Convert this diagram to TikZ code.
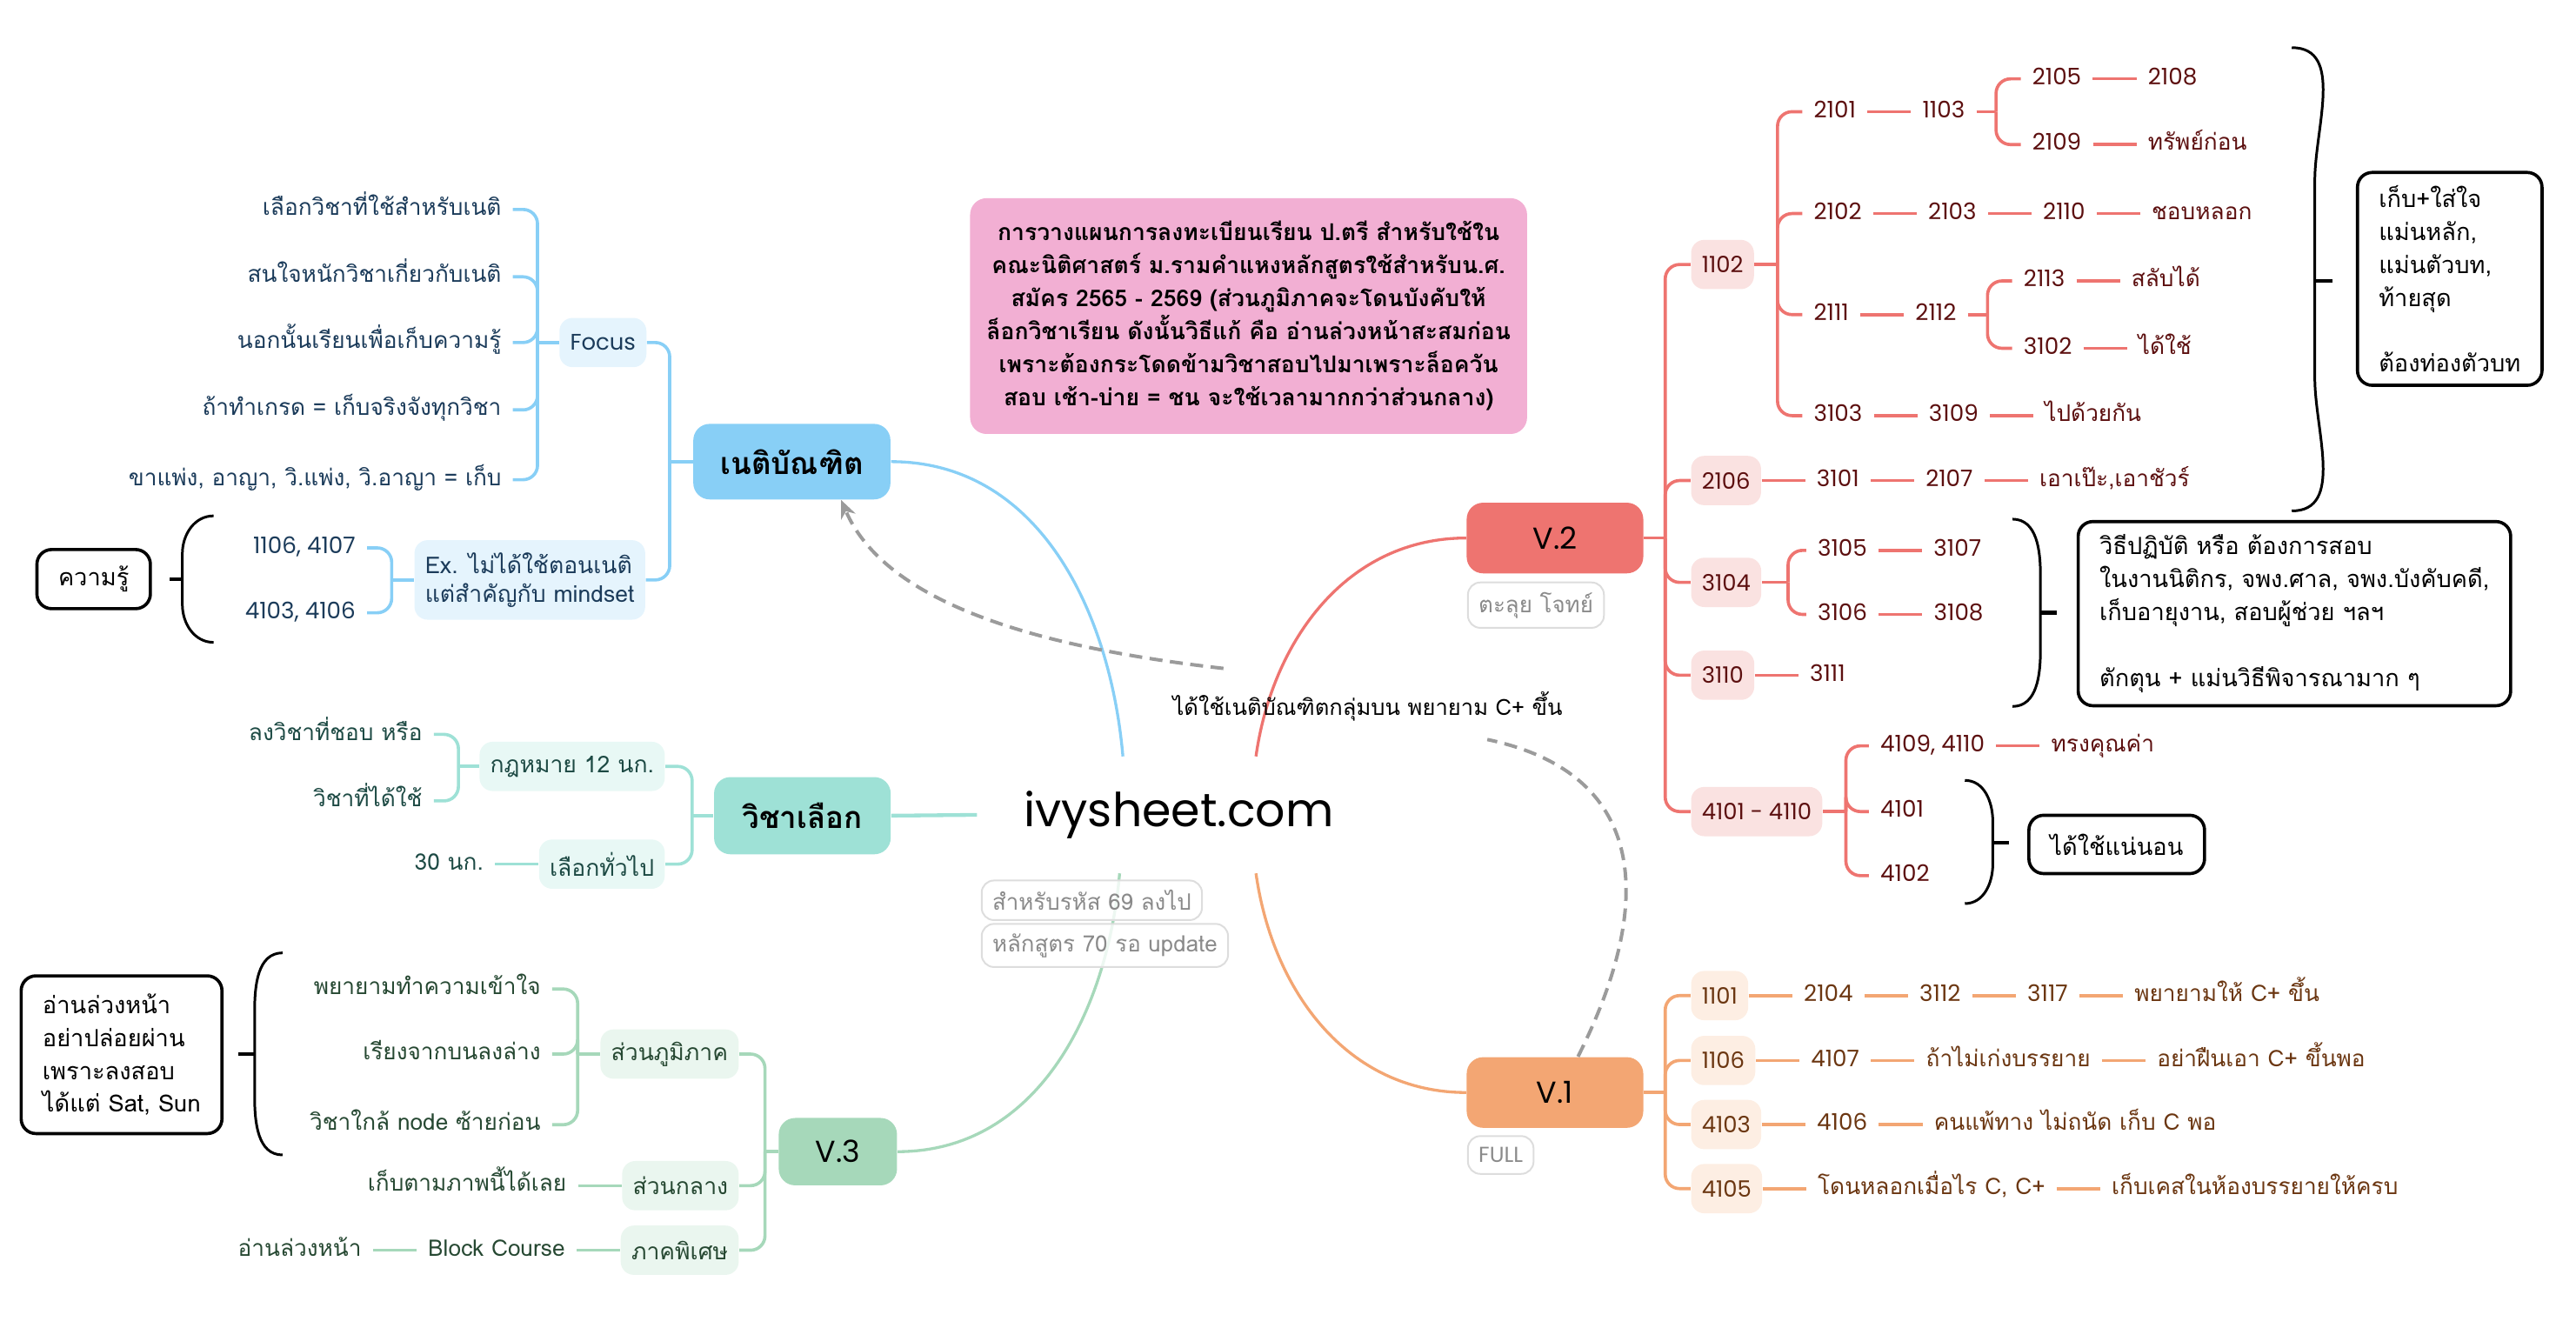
\documentclass[tikz,border=0pt]{standalone}
\usepackage{fontspec}
\setmainfont{Loma}[Script=Thai]
\newfontfamily\pop{Poppins}
\usepackage{tikz}
\usetikzlibrary{positioning,calc,arrows.meta}
\definecolor{netiC}{HTML}{88CFF6}
\definecolor{netiS}{HTML}{E5F4FD}
\definecolor{netiT}{HTML}{1B3B5A}
\definecolor{elecC}{HTML}{9EE1D6}
\definecolor{elecS}{HTML}{E8F8F5}
\definecolor{elecT}{HTML}{1D4A44}
\definecolor{vthC}{HTML}{A6D8BA}
\definecolor{vthS}{HTML}{EAF6EF}
\definecolor{vthT}{HTML}{264832}
\definecolor{vtwC}{HTML}{EE7470}
\definecolor{vtwS}{HTML}{FAE2E1}
\definecolor{vtwT}{HTML}{5C0F0F}
\definecolor{voC}{HTML}{F3A673}
\definecolor{voS}{HTML}{FDEEE3}
\definecolor{voT}{HTML}{6B3611}
\definecolor{pinkC}{HTML}{F2AFD3}
\definecolor{tagline}{HTML}{DDDDDD}
\definecolor{tagtext}{HTML}{8A8A8A}
\definecolor{relgrey}{HTML}{9B9B9B}

\begin{document}
\begin{tikzpicture}[
  x=0.2mm, y=-0.2mm,
  main/.style={rounded corners=2mm, minimum height=9.2mm, minimum width=21.5mm, inner sep=2pt},
  thbig/.style={font=\bfseries\fontsize{10.5}{12}\selectfont},
  vbig/.style={font=\pop\fontsize{10.5}{12}\selectfont},
  sub/.style={rounded corners=1.6mm, minimum height=6mm, inner xsep=1.3mm, font=\fontsize{8}{10}\selectfont},
  subn/.style={sub, font=\pop\fontsize{7.8}{10}\selectfont},
  leaf/.style={inner sep=1pt, outer sep=3pt, text height=6pt, text depth=2pt, font=\fontsize{7.9}{10}\selectfont},
  num/.style={leaf, font=\pop\fontsize{7.9}{10}\selectfont},
  link/.style={line width=1.1pt},
  trunk/.style={link, rounded corners=5pt},
  stem/.style={line width=1pt},
  note/.style={draw, line width=1.1pt, rounded corners=1.8mm, align=left, inner xsep=2.6mm, inner ysep=1.6mm, font=\fontsize{8.2}{11.4}\selectfont},
  brk/.style={line width=0.9pt},
  tick/.style={line width=1.4pt},
  tag/.style={draw=tagline, line width=0.6pt, fill=white, fill opacity=0.8, text opacity=1, text=tagtext,
              rounded corners=1.5mm, inner xsep=1.3mm, minimum height=4.6mm, font=\fontsize{7.8}{10}\selectfont},
  rel/.style={draw=relgrey, line width=1.2pt, dash pattern=on 4.5pt off 2.6pt}]
  \def\hgap{5.3mm}
  \useasboundingbox (0,0) rectangle (1568,808);
  %  -- - hub and title  -- -
  \node[minimum width=49mm, minimum height=14.1mm, font=\pop\fontsize{16.2}{20}\selectfont] (hub) at (717.5,496) {ivysheet.com};
  \node[fill=pinkC, rounded corners=2mm, minimum width=67.8mm, minimum height=28.7mm, align=center,
        font=\bfseries\fontsize{8}{11.45}\selectfont] (plan) at (760,192.4)
    {การวางแผนการลงทะเบียนเรียน ป.ตรี สำหรับใช้ใน\\
     คณะนิติศาสตร์ ม.รามคำแหงหลักสูตรใช้สำหรับน.ศ.\\
     สมัคร 2565 - 2569 (ส่วนภูมิภาคจะโดนบังคับให้\\
     ล็อกวิชาเรียน ดังนั้นวิธีแก้ คือ อ่านล่วงหน้าสะสมก่อน\\
     เพราะต้องกระโดดข้ามวิชาสอบไปมาเพราะล็อควัน\\
     สอบ เช้า-บ่าย = ชน จะใช้เวลามากกว่าส่วนกลาง)};
  %  -- - main topics  -- -
  \node[main, thbig, fill=netiC, minimum width=24mm] (neti) at (482,281) {เนติบัณฑิต};
  \node[main, thbig, fill=elecC, minimum height=9.4mm] (elec) at (488.4,496.5) {วิชาเลือก};
  \node[main, vbig, fill=vthC, minimum width=14.4mm, minimum height=8.2mm] (v3) at (510,701) {V.3};
  \node[main, vbig, fill=vtwC, minimum height=8.6mm] (v2) at (946.5,327.5) {V.2};
  \node[main, vbig, fill=voC, minimum height=8.6mm] (v1) at (946.5,665) {V.1};
  \draw[stem, netiC] ($(hub.north)+(-34,0)$) to[out=95,in=0] (neti.east);
  \draw[stem, vtwC] ($(hub.north)+(47,0)$) to[out=82,in=180] (v2.west);
  \draw[stem, vthC] ($(hub.south)+(-36,0)$) to[out=-95,in=0] (v3.east);
  \draw[stem, voC] ($(hub.south)+(47,0)$) to[out=-82,in=180] (v1.west);
  \draw[stem, elecC, line width=1.3pt] (hub.west) -- (elec.east);
  \node[tag, anchor=west] (t69) at (597,548) {สำหรับรหัส 69 ลงไป};
  \node[tag, anchor=west] (t70) at (597,575.5) {หลักสูตร 70 รอ update};
  \node[tag, anchor=north west] (tv2) at (893,354) {ตะลุย โจทย์};
  \node[tag, anchor=north west, font=\pop\fontsize{7.5}{10}\selectfont] (tv1) at (893,691) {FULL};
  %  -- - relation  -- -
  \node[font=\fontsize{7.7}{10}\selectfont] (lbl) at (832.5,430) {ได้ใช้เนติบัณฑิตกลุ่มบน พยายาม C+ ขึ้น};
  \draw[rel] ($(v1.north)+(14,0)$) .. controls (1010,545) and (1000,470) .. ($(lbl.south east)+(-52,5)$);
  \draw[rel, -{Stealth[length=2.2mm, width=1.9mm]}] ($(lbl.north west)+(37,-8)$) .. controls (640,395) and (540,370) .. ($(neti.south)+(30,0)$);

  %  -- - เนติบัณฑิต  -- -
  \coordinate (kneti) at ($(neti.west)+(-14,0)$);
  \node[subn, fill=netiS, text=netiT] (focus) at (367,208.5) {Focus};
  \node[sub, fill=netiS, text=netiT, align=left, inner ysep=1.5mm] (ex) at (322.5,353) {Ex. ไม่ได้ใช้ตอนเนติ\\แต่สำคัญกับ mindset};
  \coordinate (kfocus) at ($(focus.west)+(-13,0)$);
  \node[leaf, text=netiT, anchor=east] (f1) at ($(kfocus)+(-15,-81)$) {เลือกวิชาที่ใช้สำหรับเนติ};
  \node[leaf, text=netiT, anchor=east] (f2) at ($(kfocus)+(-15,-40)$) {สนใจหนักวิชาเกี่ยวกับเนติ};
  \node[leaf, text=netiT, anchor=east] (f3) at ($(kfocus)+(-15,0)$) {นอกนั้นเรียนเพื่อเก็บความรู้};
  \node[leaf, text=netiT, anchor=east] (f4) at ($(kfocus)+(-15,41)$) {ถ้าทำเกรด = เก็บจริงจังทุกวิชา};
  \node[leaf, text=netiT, anchor=east] (f5) at ($(kfocus)+(-15,83.5)$) {ขาแพ่ง, อาญา, วิ.แพ่ง, วิ.อาญา = เก็บ};
  \coordinate (kex) at ($(ex.west)+(-13.5,0)$);
  \node[num, text=netiT, anchor=east] (e1) at ($(kex)+(-15,-19.5)$) {1106, 4107};
  \node[num, text=netiT, anchor=east] (e2) at ($(kex)+(-15,20)$) {4103, 4106};
  \node[note, minimum width=13.6mm, minimum height=7.2mm, align=center] (know) at (57,352.5) {ความรู้};
  \draw[link, netiC] (neti.west) -- (kneti);
  \foreach \c in {focus,ex} \draw[trunk, netiC] (kneti) |- (\c.east);
  \draw[link, netiC] (focus.west) -- (kfocus);
  \foreach \c in {f1,f2,f3,f4,f5} \draw[trunk, netiC] (kfocus) |- (\c.east);
  \draw[link, netiC] (ex.west) -- (kex);
  \foreach \c in {e1,e2} \draw[trunk, netiC] (kex) |- (\c.east);
  \draw[brk] (130,314) to[out=180,in=90] (111,337) -- (111,368) to[out=-90,in=180] (130,391);
  \draw[tick] (111,352.5) -- (103,352.5);

  %  -- - วิชาเลือก  -- -
  \coordinate (kelec) at ($(elec.west)+(-13,0)$);
  \node[sub, fill=elecS, text=elecT, anchor=east] (law) at (405,466.5) {กฎหมาย 12 นก.};
  \node[sub, fill=elecS, text=elecT, anchor=east] (gen) at (405,526) {เลือกทั่วไป};
  \coordinate (klaw) at ($(law.west)+(-12.5,0)$);
  \node[leaf, text=elecT, anchor=east] (w1) at ($(klaw)+(-15,-19.5)$) {ลงวิชาที่ชอบ หรือ};
  \node[leaf, text=elecT, anchor=east] (w2) at ($(klaw)+(-15,21)$) {วิชาที่ได้ใช้};
  \node[leaf, text=elecT, left=\hgap of gen] (g1) {30 นก.};
  \draw[link, elecC] (elec.west) -- (kelec);
  \foreach \c in {law,gen} \draw[trunk, elecC] (kelec) |- (\c.east);
  \draw[link, elecC] (law.west) -- (klaw);
  \foreach \c in {w1,w2} \draw[trunk, elecC] (klaw) |- (\c.east);
  \draw[link, elecC] (gen) -- (g1);

  %  -- - V.3  -- -
  \coordinate (kv3) at ($(v3.west)+(-8,0)$);
  \node[sub, fill=vthS, text=vthT, anchor=east] (reg) at (450,641.6) {ส่วนภูมิภาค};
  \node[sub, fill=vthS, text=vthT, anchor=east] (cen) at (450,721.7) {ส่วนกลาง};
  \node[sub, fill=vthS, text=vthT, anchor=east] (spe) at (450,761) {ภาคพิเศษ};
  \coordinate (kreg) at ($(reg.west)+(-13.5,0)$);
  \node[leaf, text=vthT, anchor=east] (r1) at ($(kreg)+(-15.5,-39.6)$) {พยายามทำความเข้าใจ};
  \node[leaf, text=vthT, anchor=east] (r2) at ($(kreg)+(-15.5,0)$) {เรียงจากบนลงล่าง};
  \node[leaf, text=vthT, anchor=east] (r3) at ($(kreg)+(-15.5,43)$) {วิชาใกล้ node ซ้ายก่อน};
  \node[leaf, text=vthT, left=\hgap of cen] (c1) {เก็บตามภาพนี้ได้เลย};
  \node[leaf, text=vthT, left=\hgap of spe] (p1) {Block Course};
  \node[leaf, text=vthT, left=\hgap of p1] (p2) {อ่านล่วงหน้า};
  \node[note, minimum width=23.8mm, minimum height=19.2mm] (ahead) at (74,642)
    {อ่านล่วงหน้า\\อย่าปล่อยผ่าน\\เพราะลงสอบ\\ได้แต่ Sat, Sun};
  \draw[link, vthC] (v3.west) -- (kv3);
  \foreach \c in {reg,cen,spe} \draw[trunk, vthC] (kv3) |- (\c.east);
  \draw[link, vthC] (reg.west) -- (kreg);
  \foreach \c in {r1,r2,r3} \draw[trunk, vthC] (kreg) |- (\c.east);
  \draw[link, vthC] (cen) -- (c1); \draw[link, vthC] (spe) -- (p1); \draw[link, vthC] (p1) -- (p2);
  \draw[brk] (172,580) to[out=180,in=90] (155,615) -- (155,668) to[out=-90,in=180] (172,703);
  \draw[tick] (155,641.5) -- (145,641.5);

  %  -- - V.2  -- -
  \coordinate (kv2) at ($(v2.east)+(13,0)$);
  \node[subn, fill=vtwS, text=vtwT, anchor=west] (s1102) at (1029,161) {1102};
  \node[subn, fill=vtwS, text=vtwT, anchor=west] (s2106) at (1029,292.5) {2106};
  \node[subn, fill=vtwS, text=vtwT, anchor=west] (s3104) at (1029,354.5) {3104};
  \node[subn, fill=vtwS, text=vtwT, anchor=west] (s3110) at (1029,411) {3110};
  \node[subn, fill=vtwS, text=vtwT, anchor=west] (s4101) at (1029,494) {4101 - 4110};
  \draw[link, vtwC] (v2.east) -- (kv2);
  \foreach \s in {s1102,s2106,s3104,s3110,s4101} \draw[trunk, vtwC] (kv2) |- (\s.west);
  % 1102
  \coordinate (k1102) at ($(s1102.east)+(14,0)$);
  \node[num, text=vtwT, anchor=west] (n2101) at (1097,68) {2101};
  \node[num, text=vtwT, right=\hgap of n2101] (n1103) {1103};
  \coordinate (k1103) at ($(n1103.east)+(12,0)$);
  \node[num, text=vtwT, anchor=west] (n2105) at ($(k1103)+(15,-20)$) {2105};
  \node[num, text=vtwT, right=\hgap of n2105] (n2108) {2108};
  \node[num, text=vtwT, anchor=west] (n2109) at ($(k1103)+(15,20)$) {2109};
  \node[leaf, text=vtwT, right=\hgap of n2109] (q1) {ทรัพย์ก่อน};
  \node[num, text=vtwT, anchor=west] (n2102) at (1097,130) {2102};
  \node[num, text=vtwT, right=\hgap of n2102] (n2103) {2103};
  \node[num, text=vtwT, right=\hgap of n2103] (n2110) {2110};
  \node[leaf, text=vtwT, right=\hgap of n2110] (q2) {ชอบหลอก};
  \node[num, text=vtwT, anchor=west] (n2111) at (1097,191.5) {2111};
  \node[num, text=vtwT, right=\hgap of n2111] (n2112) {2112};
  \coordinate (k2112) at ($(n2112.east)+(12,0)$);
  \node[num, text=vtwT, anchor=west] (n2113) at ($(k2112)+(15,-20.5)$) {2113};
  \node[leaf, text=vtwT, right=\hgap of n2113] (q3) {สลับได้};
  \node[num, text=vtwT, anchor=west] (n3102) at ($(k2112)+(15,20.5)$) {3102};
  \node[leaf, text=vtwT, right=\hgap of n3102] (q4) {ได้ใช้};
  \node[num, text=vtwT, anchor=west] (n3103) at (1097,253) {3103};
  \node[num, text=vtwT, right=\hgap of n3103] (n3109) {3109};
  \node[leaf, text=vtwT, right=\hgap of n3109] (q5) {ไปด้วยกัน};
  \draw[link, vtwC] (s1102.east) -- (k1102);
  \foreach \c in {n2101,n2102,n2111,n3103} \draw[trunk, vtwC] (k1102) |- (\c.west);
  \draw[link, vtwC] (n2101) -- (n1103); \draw[link, vtwC] (n1103.east) -- (k1103);
  \foreach \c in {n2105,n2109} \draw[trunk, vtwC] (k1103) |- (\c.west);
  \draw[link, vtwC] (n2105) -- (n2108); \draw[link, vtwC] (n2109) -- (q1);
  \draw[link, vtwC] (n2102) -- (n2103); \draw[link, vtwC] (n2103) -- (n2110); \draw[link, vtwC] (n2110) -- (q2);
  \draw[link, vtwC] (n2111) -- (n2112); \draw[link, vtwC] (n2112.east) -- (k2112);
  \foreach \c in {n2113,n3102} \draw[trunk, vtwC] (k2112) |- (\c.west);
  \draw[link, vtwC] (n2113) -- (q3); \draw[link, vtwC] (n3102) -- (q4);
  \draw[link, vtwC] (n3103) -- (n3109); \draw[link, vtwC] (n3109) -- (q5);
  % 2106, 3104, 3110
  \node[num, text=vtwT, right=\hgap of s2106] (n3101) {3101};
  \node[num, text=vtwT, right=\hgap of n3101] (n2107) {2107};
  \node[leaf, text=vtwT, right=\hgap of n2107] (q6) {เอาเป๊ะ,เอาชัวร์};
  \draw[link, vtwC] (s2106) -- (n3101); \draw[link, vtwC] (n3101) -- (n2107); \draw[link, vtwC] (n2107) -- (q6);
  \coordinate (k3104) at ($(s3104.east)+(16,0)$);
  \node[num, text=vtwT, anchor=west] (n3105) at ($(k3104)+(11,-19.5)$) {3105};
  \node[num, text=vtwT, right=\hgap of n3105] (n3107) {3107};
  \node[num, text=vtwT, anchor=west] (n3106) at ($(k3104)+(11,19.5)$) {3106};
  \node[num, text=vtwT, right=\hgap of n3106] (n3108) {3108};
  \draw[link, vtwC] (s3104.east) -- (k3104);
  \foreach \c in {n3105,n3106} \draw[trunk, vtwC] (k3104) |- (\c.west);
  \draw[link, vtwC] (n3105) -- (n3107); \draw[link, vtwC] (n3106) -- (n3108);
  \node[num, text=vtwT, right=\hgap of s3110] (n3111) {3111};
  \draw[link, vtwC] (s3110) -- (n3111);
  % 4101 - 4110
  \coordinate (k4101) at ($(s4101.east)+(14,0)$);
  \node[num, text=vtwT, anchor=west] (n4109) at ($(k4101)+(14,-40)$) {4109, 4110};
  \node[leaf, text=vtwT, right=\hgap of n4109] (q7) {ทรงคุณค่า};
  \node[num, text=vtwT, anchor=west] (n4101) at ($(k4101)+(14,0)$) {4101};
  \node[num, text=vtwT, anchor=west] (n4102) at ($(k4101)+(14,39)$) {4102};
  \draw[link, vtwC] (s4101.east) -- (k4101);
  \foreach \c in {n4109,n4101,n4102} \draw[trunk, vtwC] (k4101) |- (\c.west);
  \draw[link, vtwC] (n4109) -- (q7);
  % notes on the right
  \node[note, anchor=north west] (keep) at (1434,104)
    {เก็บ+ใส่ใจ\\แม่นหลัก,\\แม่นตัวบท,\\ท้ายสุด\\[11.4pt]ต้องท่องตัวบท};
  \node[note, anchor=north west] (prac) at (1264,316.5)
    {วิธีปฏิบัติ หรือ ต้องการสอบ\\ในงานนิติกร, จพง.ศาล, จพง.บังคับคดี,\\เก็บอายุงาน, สอบผู้ช่วย ฯลฯ\\[11.4pt]ตักตุน + แม่นวิธีพิจารณามาก ๆ};
  \node[note, anchor=west, minimum height=7.1mm] (sure) at (1234,514) {ได้ใช้แน่นอน};
  \draw[brk] (1395,29) to[out=0,in=90] (1409,110) -- (1409,230) to[out=-90,in=0] (1395,311);
  \draw[tick] (1409,171) -- (1420,171);
  \draw[brk] (1225,316) to[out=0,in=90] (1242,350) -- (1242,396) to[out=-90,in=0] (1225,430);
  \draw[tick] (1242,373) -- (1252,373);
  \draw[brk] (1196,475) to[out=0,in=90] (1213,500) -- (1213,526) to[out=-90,in=0] (1196,550);
  \draw[tick] (1213,513) -- (1223,513);

  %  -- - V.1  -- -
  \coordinate (kv1) at ($(v1.east)+(13,0)$);
  \node[subn, fill=voS, text=voT, anchor=west] (s1101) at (1029,606) {1101};
  \node[subn, fill=voS, text=voT, anchor=west] (s1106) at (1029,645.5) {1106};
  \node[subn, fill=voS, text=voT, anchor=west] (s4103) at (1029,684.5) {4103};
  \node[subn, fill=voS, text=voT, anchor=west] (s4105) at (1029,723.5) {4105};
  \draw[link, voC] (v1.east) -- (kv1);
  \foreach \s in {s1101,s1106,s4103,s4105} \draw[trunk, voC] (kv1) |- (\s.west);
  \node[num, text=voT, right=\hgap of s1101] (n2104) {2104};
  \node[num, text=voT, right=\hgap of n2104] (n3112) {3112};
  \node[num, text=voT, right=\hgap of n3112] (n3117) {3117};
  \node[leaf, text=voT, right=\hgap of n3117] (o1) {พยายามให้ C+ ขึ้น};
  \node[num, text=voT, right=\hgap of s1106] (n4107) {4107};
  \node[leaf, text=voT, right=\hgap of n4107] (o2) {ถ้าไม่เก่งบรรยาย};
  \node[leaf, text=voT, right=\hgap of o2] (o3) {อย่าฝืนเอา C+ ขึ้นพอ};
  \node[num, text=voT, right=\hgap of s4103] (n4106) {4106};
  \node[leaf, text=voT, right=\hgap of n4106] (o4) {คนแพ้ทาง ไม่ถนัด เก็บ C พอ};
  \node[leaf, text=voT, right=\hgap of s4105] (o5) {โดนหลอกเมื่อไร C, C+};
  \node[leaf, text=voT, right=\hgap of o5] (o6) {เก็บเคสในห้องบรรยายให้ครบ};
  \draw[link, voC] (s1101) -- (n2104); \draw[link, voC] (n2104) -- (n3112); \draw[link, voC] (n3112) -- (n3117); \draw[link, voC] (n3117) -- (o1);
  \draw[link, voC] (s1106) -- (n4107); \draw[link, voC] (n4107) -- (o2); \draw[link, voC] (o2) -- (o3);
  \draw[link, voC] (s4103) -- (n4106); \draw[link, voC] (n4106) -- (o4);
  \draw[link, voC] (s4105) -- (o5); \draw[link, voC] (o5) -- (o6);
\end{tikzpicture}
\end{document}
